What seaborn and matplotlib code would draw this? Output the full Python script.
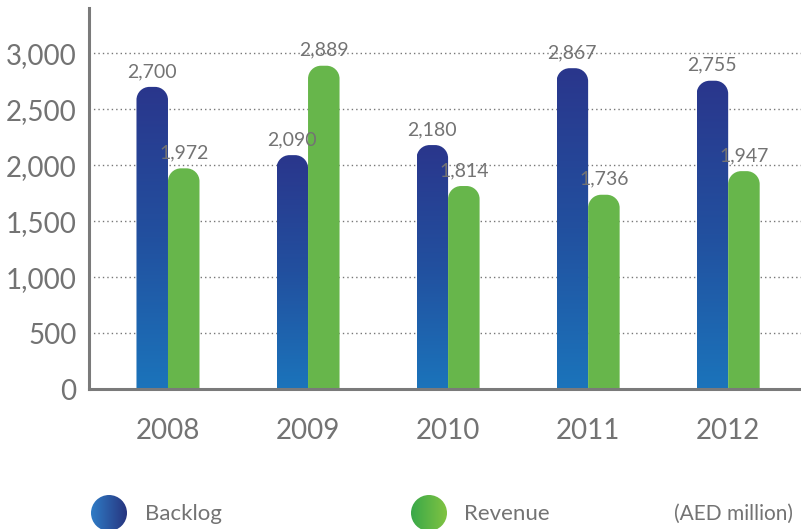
import numpy as np
import pandas as pd
import matplotlib
matplotlib.use("Agg")
import matplotlib.pyplot as plt
import seaborn as sns
from matplotlib.path import Path
from matplotlib.patches import PathPatch, Circle
from matplotlib.colors import LinearSegmentedColormap

years = ["2008", "2009", "2010", "2011", "2012"]
backlog = [2700, 2090, 2180, 2867, 2755]
revenue = [1972, 2889, 1814, 1736, 1947]
yticks = [0, 500, 1000, 1500, 2000, 2500, 3000]

df = pd.DataFrame({
    "Year": years * 2,
    "Value": backlog + revenue,
    "Series": ["Backlog"] * 5 + ["Revenue"] * 5,
})

sns.set_style("white")
plt.rcParams["font.family"] = ["Lato", "DejaVu Sans"]
grey = "#737373"

fig = plt.figure(figsize=(8.01, 5.29), dpi=100)
ax = fig.add_axes([89 / 801, 140 / 529, 1 - 89 / 801, 381 / 529])

sns.barplot(data=df, x="Year", y="Value", hue="Series", width=0.45, gap=0,
            palette=["#1f4f9f", "#67b64b"], legend=False, ax=ax)

ax.set_xlim(-0.564, 4.52)
ax.set_ylim(0, 3405)
ax.set_yticks(yticks)
ax.set_yticklabels([f"{v:,}" for v in yticks])
ax.set_xlabel("")
ax.set_ylabel("")
ax.tick_params(axis="y", length=0, pad=9, labelsize=20, labelcolor=grey)
ax.tick_params(axis="x", length=0, pad=21, labelsize=20, labelcolor=grey)

for s in ["top", "right"]:
    ax.spines[s].set_visible(False)
for s in ["left", "bottom"]:
    ax.spines[s].set_color("#7a7a7a")
    ax.spines[s].set_linewidth(2.2)

for v in yticks[1:]:
    ax.axhline(v, color="#777777", linestyle=(0, (1, 2.2)), linewidth=1.0, zorder=0)

# rounded tops + gradient
fig.canvas.draw()
p0 = ax.transData.transform((0, 0))
p1 = ax.transData.transform((1, 1000))
px_x = p1[0] - p0[0]
px_y = (p1[1] - p0[1]) / 1000
r_px = 13
rx = r_px / px_x
ry = r_px / px_y
k = 0.5523

def rounded_path(x, w, h):
    verts = [(x, 0), (x, h - ry),
             (x, h - ry + k * ry), (x + rx - k * rx, h), (x + rx, h),
             (x + w - rx, h),
             (x + w - rx + k * rx, h), (x + w, h - ry + k * ry), (x + w, h - ry),
             (x + w, 0), (x, 0)]
    codes = [Path.MOVETO, Path.LINETO,
             Path.CURVE4, Path.CURVE4, Path.CURVE4,
             Path.LINETO,
             Path.CURVE4, Path.CURVE4, Path.CURVE4,
             Path.LINETO, Path.CLOSEPOLY]
    return Path(verts, codes)

blue_cmap = LinearSegmentedColormap.from_list("b", ["#1b74bb", "#22509f", "#2a368c"])
grad = np.linspace(0, 1, 256).reshape(-1, 1)

bars = list(ax.patches)
for i, bar in enumerate(bars):
    x = bar.get_x()
    w = bar.get_width()
    h = bar.get_height()
    bar.set_visible(False)
    path = rounded_path(x, w, h)
    if i < 5:
        im = ax.imshow(grad, cmap=blue_cmap, aspect="auto", origin="lower",
                       extent=[x, x + w, 0, h], zorder=2)
        clip = PathPatch(path, transform=ax.transData, facecolor="none", edgecolor="none")
        ax.add_patch(clip)
        im.set_clip_path(clip)
    else:
        ax.add_patch(PathPatch(path, facecolor="#67b64b", edgecolor="none", zorder=2))
    ax.annotate(f"{h:,.0f}", (x + w / 2, h), xytext=(0, 5), textcoords="offset points",
                ha="center", va="bottom", fontsize=14, color=grey, zorder=5)

ax.set_xlim(-0.564, 4.52)
ax.set_ylim(0, 3405)

# legend
def legend_dot(cx, cy, r, colors):
    lax = fig.add_axes([(cx - r) / 801, 1 - (cy + r) / 529, 2 * r / 801, 2 * r / 529])
    lax.set_axis_off()
    cmap = LinearSegmentedColormap.from_list("l", colors)
    im = lax.imshow(np.linspace(0, 1, 256).reshape(1, -1), cmap=cmap, aspect="auto",
                    extent=[0, 1, 0, 1])
    c = Circle((0.5, 0.5), 0.5, transform=lax.transAxes, facecolor="none", edgecolor="none")
    lax.add_patch(c)
    im.set_clip_path(c)
    lax.set_xlim(0, 1)
    lax.set_ylim(0, 1)

legend_dot(109, 513, 18, ["#2f7cc6", "#27357f"])
legend_dot(429, 513, 18, ["#39a849", "#80c342"])
fig.text(145 / 801, 1 - 514 / 529, "Backlog", fontsize=16, color=grey, va="center")
fig.text(464 / 801, 1 - 514 / 529, "Revenue", fontsize=16, color=grey, va="center")
fig.text(674 / 801, 1 - 514 / 529, "(AED million)", fontsize=15, color=grey, va="center")

fig.savefig("out.png", dpi=100)
